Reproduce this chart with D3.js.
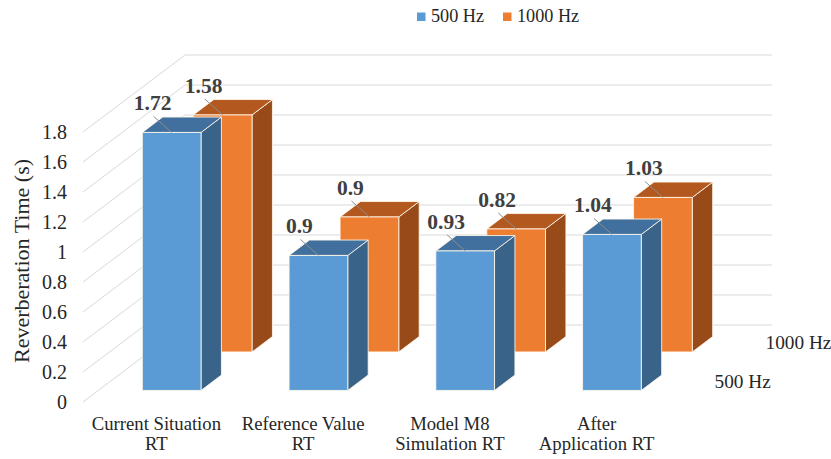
<!DOCTYPE html>
<html>
<head>
<meta charset="utf-8">
<script src="https://cdn.jsdelivr.net/npm/d3@7"></script>
<style>
  html, body { margin: 0; padding: 0; background: #fff; }
  svg { display: block; }
  text { font-family: "Liberation Serif", "Times New Roman", serif; }
</style>
</head>
<body>
<svg id="chart" width="831" height="459"></svg>
<script>
// Reverberation time by scenario, two octave bands
const categories = [["Current Situation", "RT"], ["Reference Value", "RT"], ["Model M8", "Simulation RT"], ["After", "Application RT"]];
const seriesNames = ["500 Hz", "1000 Hz"];
const values500 = [1.72, 0.9, 0.93, 1.04];
const values1000 = [1.58, 0.9, 0.82, 1.03];
const yTicks = [0, 0.2, 0.4, 0.6, 0.8, 1, 1.2, 1.4, 1.6, 1.8];

const seriesValues = [values500, values1000];
const faceColors = {
  "500 Hz":  { front: "#5b9bd5", top: "#41709e", side: "#3a6389" },
  "1000 Hz": { front: "#ed7d31", top: "#b3581e", side: "#984a18" }
};

const svg = d3.select("#chart");

// Oblique 3D frame: front plane, depth runs up and to the right
const frontLeft = 83, frontRight = 670, floorY = 402;
const depthVec = [102, -77];

const catKeys = categories.map(c => c.join(" "));
const x = d3.scaleBand().domain(catKeys).range([frontLeft, frontRight])
  .paddingInner(0.6).paddingOuter(0.3);
const z = d3.scaleBand().domain(seriesNames).range([0, 1])
  .paddingInner(0.6).paddingOuter(0.3);
const yMax = 1.8;
const h = d3.scaleLinear().domain([0, yMax]).range([0, 270]);

function proj(X, H, Z) {
  return [X + Z * depthVec[0], floorY - H - Z * (-depthVec[1])];
}
function poly(pts) {
  return pts.map(p => p.join(",")).join(" ");
}

const grid = svg.append("g").attr("stroke", "#d9d9d9").attr("stroke-width", 1).attr("fill", "none");
// back wall gridlines
grid.selectAll("line.back").data(yTicks).join("line")
  .attr("class", "back")
  .attr("x1", d => proj(frontLeft, h(d), 1)[0])
  .attr("y1", d => proj(frontLeft, h(d), 1)[1])
  .attr("x2", d => proj(frontRight, h(d), 1)[0])
  .attr("y2", d => proj(frontRight, h(d), 1)[1]);
// side wall gridlines
grid.selectAll("line.side").data(yTicks).join("line")
  .attr("class", "side")
  .attr("x1", d => proj(frontLeft, h(d), 0)[0])
  .attr("y1", d => proj(frontLeft, h(d), 0)[1])
  .attr("x2", d => proj(frontLeft, h(d), 1)[0])
  .attr("y2", d => proj(frontLeft, h(d), 1)[1]);

// y-axis tick labels on the front plane
svg.append("g").selectAll("text").data(yTicks).join("text")
  .attr("x", 67)
  .attr("y", d => proj(frontLeft, h(d), 0)[1])
  .attr("dy", "0.33em")
  .attr("text-anchor", "end")
  .attr("font-size", 20)
  .attr("fill", "#262626")
  .text(d => d);

// axis title
svg.append("text")
  .attr("transform", "translate(29,261) rotate(-90)")
  .attr("text-anchor", "middle")
  .attr("font-size", 22)
  .attr("fill", "#262626")
  .text("Reverberation Time (s)");

// bars: back row first so the front row overlaps it
const bars = [];
seriesNames.forEach((s, si) => {
  catKeys.forEach((c, ci) => {
    bars.push({ series: s, cat: c, value: seriesValues[si][ci], si });
  });
});
bars.sort((a, b) => b.si - a.si);

const barG = svg.append("g");
bars.forEach(b => {
  const X0 = x(b.cat), X1 = X0 + x.bandwidth();
  const Z0 = z(b.series), Z1 = Z0 + z.bandwidth();
  const H = h(b.value);
  const col = faceColors[b.series];
  const g = barG.append("g").attr("stroke", "rgba(255,248,235,0.85)").attr("stroke-width", 1)
    .attr("stroke-linejoin", "round");
  g.append("polygon").attr("fill", col.side)
    .attr("points", poly([proj(X1, 0, Z0), proj(X1, H, Z0), proj(X1, H, Z1), proj(X1, 0, Z1)]));
  g.append("polygon").attr("fill", col.top)
    .attr("points", poly([proj(X0, H, Z0), proj(X1, H, Z0), proj(X1, H, Z1), proj(X0, H, Z1)]));
  g.append("polygon").attr("fill", col.front)
    .attr("points", poly([proj(X0, 0, Z0), proj(X1, 0, Z0), proj(X1, H, Z0), proj(X0, H, Z0)]));
});

// data labels with leader lines to the front top edge
const labelG = svg.append("g");
bars.forEach(b => {
  const X0 = x(b.cat), X1 = X0 + x.bandwidth();
  const anchor = proj((X0 + X1) / 2, h(b.value), z(b.series));
  const lx = anchor[0] - 19, ly = anchor[1] - 22;
  labelG.append("line")
    .attr("x1", lx + 1).attr("y1", ly + 6)
    .attr("x2", anchor[0]).attr("y2", anchor[1])
    .attr("stroke", "#8c8c8c").attr("stroke-width", 1);
  labelG.append("text")
    .attr("x", lx).attr("y", ly)
    .attr("text-anchor", "middle")
    .attr("font-size", 21.5)
    .attr("font-weight", "bold")
    .attr("fill", "#404040")
    .text(b.value);
});

// category labels along the front edge
const catG = svg.append("g");
categories.forEach((lines, i) => {
  const cx = x(catKeys[i]) + x.bandwidth() / 2;
  const t = catG.append("text")
    .attr("x", cx)
    .attr("y", 430)
    .attr("text-anchor", "middle")
    .attr("font-size", 18.7)
    .attr("fill", "#262626");
  lines.forEach((ln, j) => {
    t.append("tspan")
      .attr("x", cx)
      .attr("dy", j === 0 ? 0 : 20)
      .text(ln);
  });
});

// depth-axis labels at the floor's right edge
svg.append("g").selectAll("text").data(seriesNames).join("text")
  .attr("x", d => proj(frontRight, 0, z(d) + z.bandwidth() / 2)[0] + 19)
  .attr("y", d => proj(frontRight, 0, z(d) + z.bandwidth() / 2)[1] + 5)
  .attr("font-size", 19.3)
  .attr("fill", "#262626")
  .text(d => d);

// legend
const legend = svg.append("g");
const legendX = [417, 503];
seriesNames.forEach((s, i) => {
  legend.append("rect")
    .attr("x", legendX[i]).attr("y", 12.5)
    .attr("width", 8.5).attr("height", 8.5)
    .attr("fill", faceColors[s].front);
  legend.append("text")
    .attr("x", legendX[i] + 14).attr("y", 22)
    .attr("font-size", 18.2)
    .attr("fill", "#262626")
    .text(s);
});
</script>
</body>
</html>
